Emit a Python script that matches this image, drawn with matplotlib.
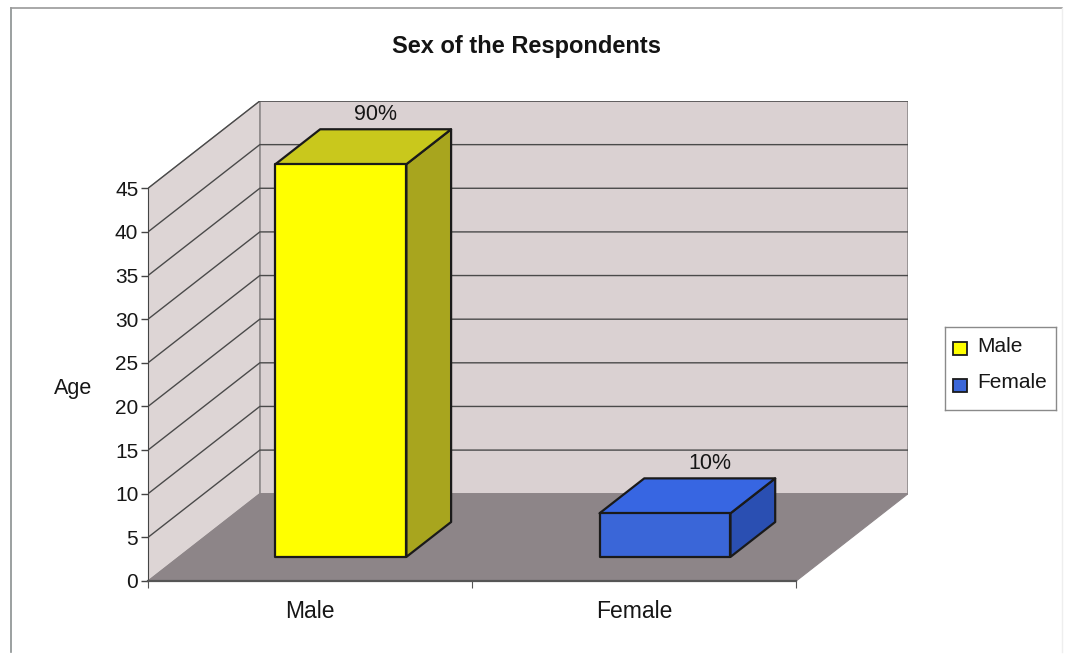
import matplotlib.pyplot as plt
from matplotlib.patches import Polygon, Rectangle
from matplotlib.lines import Line2D

plt.rcParams['font.family'] = ['Liberation Sans', 'DejaVu Sans']

categories = ['Male', 'Female']
values = [45, 5]
pct_labels = ['90%', '10%']
yticks = [0, 5, 10, 15, 20, 25, 30, 35, 40, 45]
front_colors = ['#ffff00', '#3a66d8']
top_colors = ['#c9c81c', '#3766e2']
side_colors = ['#a8a51e', '#2a4fb2']

# fake 3-D: depth offset in data units
DX, DY = 0.345, 10.0
bar_w = 0.404
d0, d1 = 0.276, 0.676
ymax = 45
txt = '#161616'

fig = plt.figure(figsize=(10.66, 6.55), dpi=100)
W, H = 1066, 655
ax = fig.add_axes([148 / W, (H - 581) / H, (908 - 148) / W, (581 - 101) / H])
ax.set_xlim(0, 2 + DX)
ax.set_ylim(0, ymax + DY)
ax.patch.set_visible(False)

def P(x, y, d):
    return (x + d * DX, y + d * DY)

# walls and floor
side = Polygon([P(0, 0, 0), P(0, 0, 1), P(0, ymax, 1), P(0, ymax, 0)],
               closed=True, fc='#ddd5d5', ec='#9a9595', lw=0.8, zorder=1)
back = Polygon([P(0, 0, 1), P(2, 0, 1), P(2, ymax, 1), P(0, ymax, 1)],
               closed=True, fc='#dad1d2', ec='#8e8a8a', lw=1.2, zorder=1)
floor = Polygon([P(0, 0, 0), P(2, 0, 0), P(2, 0, 1), P(0, 0, 1)],
                closed=True, fc='#8d8588', ec='#8d8588', lw=0.8, zorder=2)
for p in (side, back, floor):
    ax.add_patch(p)

# gridlines on the back and side walls
for t in yticks[1:]:
    xa, ya = P(0, t, 0)
    xb, yb = P(0, t, 1)
    xc, yc = P(2, t, 1)
    ax.plot([xa, xb, xc], [ya, yb, yc], color='#4a4a4a', lw=1.0, zorder=1.5)

# bars
label_dx = [-0.03, 0.0]
for i, (v, fc, tc, sc) in enumerate(zip(values, front_colors, top_colors, side_colors)):
    x0 = i + 0.5 - bar_w / 2
    x1 = i + 0.5 + bar_w / 2
    front = [P(x0, 0, d0), P(x1, 0, d0), P(x1, v, d0), P(x0, v, d0)]
    top = [P(x0, v, d0), P(x1, v, d0), P(x1, v, d1), P(x0, v, d1)]
    rside = [P(x1, 0, d0), P(x1, 0, d1), P(x1, v, d1), P(x1, v, d0)]
    for poly, c in ((rside, sc), (top, tc), (front, fc)):
        ax.add_patch(Polygon(poly, closed=True, fc=c, ec='#1a1a1a', lw=1.6,
                             joinstyle='round', zorder=3))
    lx, ly = P(i + 0.5, v, d1)
    ax.text(lx + label_dx[i], ly + 0.5, pct_labels[i], ha='center', va='bottom',
            fontsize=15.5, color=txt, zorder=4)

# axes
for s in ('top', 'right'):
    ax.spines[s].set_visible(False)
ax.spines['left'].set_bounds(0, ymax)
ax.spines['bottom'].set_bounds(0, 2)
ax.spines['left'].set_color('#444444')
ax.spines['bottom'].set_color('#555555')
ax.spines['bottom'].set_linewidth(1.6)
ax.set_yticks(yticks)
ax.set_yticklabels([str(t) for t in yticks])
ax.tick_params(axis='y', direction='out', length=5, width=1, color='#444444',
               labelsize=15, labelcolor=txt, pad=2)
ax.set_xticks([0, 1, 2])
ax.set_xticklabels(['', '', ''])
ax.set_xticks([0.5, 1.5], minor=True)
ax.set_xticklabels(categories, minor=True)
ax.tick_params(axis='x', which='major', direction='out', length=5, color='#555555')
ax.tick_params(axis='x', which='minor', length=0, labelsize=16.5,
               labelcolor=txt, pad=14)
ax.set_ylabel('Age', rotation=0, fontsize=15.5, color=txt, ha='center', va='center')
ax.yaxis.set_label_coords(-0.098, 0.402)

fig.text(527 / W, 1 - 46 / H, 'Sex of the Respondents', ha='center', va='center',
         fontsize=17, fontweight='bold', color='#141414')

# legend
lax = fig.add_axes([945 / W, (H - 410) / H, (1056 - 945) / W, (410 - 327) / H])
lax.set_xlim(0, 111)
lax.set_ylim(83, 0)
lax.set_xticks([])
lax.set_yticks([])
for s in lax.spines.values():
    s.set_color('#8a8a8a')
    s.set_linewidth(1)
for j, (name, c) in enumerate(zip(categories, front_colors)):
    yc = 21 + j * 37
    lax.add_patch(Rectangle((8, yc - 6), 14, 13, fc=c, ec='#1a1a1a', lw=1.3))
    lax.text(32, yc - 2, name, ha='left', va='center', fontsize=15, color=txt)

# outer chart border
fig.add_artist(Line2D([11 / W, 11 / W], [1 - 8 / H, 1 - 652 / H], color='#8a9090', lw=1.2))
fig.add_artist(Line2D([11 / W, 1062 / W], [1 - 8 / H, 1 - 8 / H], color='#9a9a9a', lw=1.2))
fig.add_artist(Line2D([1062 / W, 1062 / W], [1 - 8 / H, 1 - 652 / H], color='#eeeeee', lw=1.0))

fig.savefig('out.png', dpi=100)
